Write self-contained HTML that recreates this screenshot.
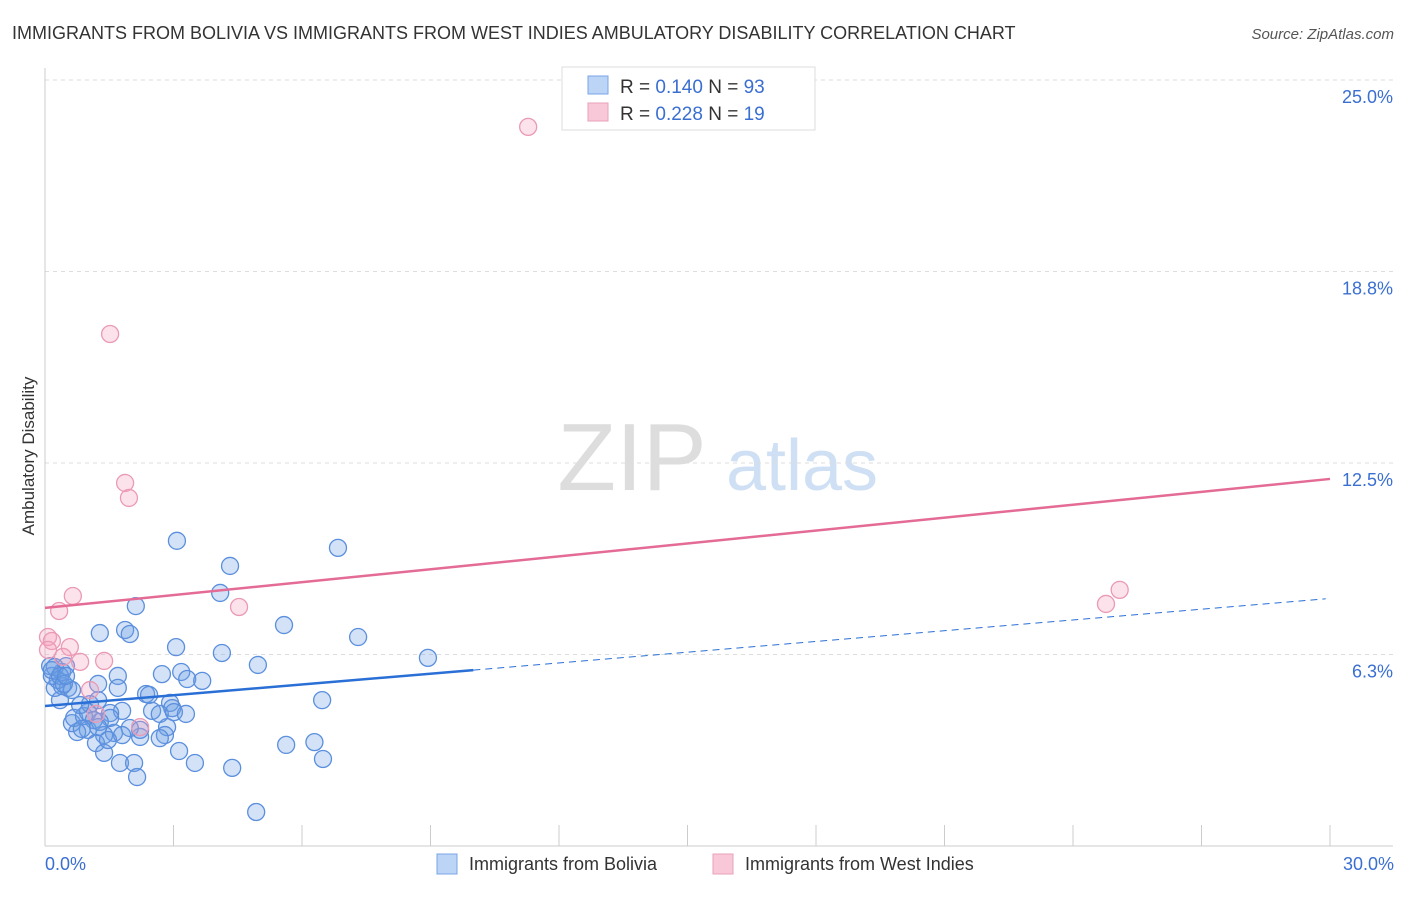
<!DOCTYPE html>
<html><head><meta charset="utf-8"><style>
body{margin:0;background:#fff;font-family:"Liberation Sans",sans-serif;}
svg text{font-family:"Liberation Sans",sans-serif;}
</style></head><body>
<svg id="chart" width="1406" height="892" xmlns="http://www.w3.org/2000/svg">
<text x="12" y="39" font-size="18" fill="#333">IMMIGRANTS FROM BOLIVIA VS IMMIGRANTS FROM WEST INDIES AMBULATORY DISABILITY CORRELATION CHART</text>
<text x="1394" y="39" font-size="15" fill="#555" text-anchor="end" font-style="italic">Source: ZipAtlas.com</text>
<g>
<text x="632" y="490" font-size="96" fill="#ddd" text-anchor="middle" font-family="Liberation Serif,serif">ZIP</text>
<text x="802" y="490" font-size="72" fill="#cfe0f5" text-anchor="middle">atlas</text>
</g>
<g id="grid"></g>
<g id="axes"></g>
<g id="pts"></g>
<g id="trend"></g>
<text transform="translate(34,456) rotate(-90)" font-size="17" fill="#333" text-anchor="middle">Ambulatory Disability</text>
<text x="45" y="870" font-size="18" fill="#3a6fd1">0.0%</text>
<text x="1394" y="870" font-size="18" fill="#3a6fd1" text-anchor="end">30.0%</text>
<g>
<rect x="562" y="67" width="253" height="63" fill="#fff" stroke="#ddd"/>
<rect x="588" y="76" width="20" height="18" fill="#bcd4f5" stroke="#7aa5e6"/>
<rect x="588" y="103" width="20" height="18" fill="#f8c8d8" stroke="#eaa0b8"/>
<text x="620" y="93" font-size="19" fill="#333">R = <tspan fill="#3a6fd1">0.140</tspan>   N = <tspan fill="#3a6fd1">93</tspan></text>
<text x="620" y="120" font-size="19" fill="#333">R = <tspan fill="#3a6fd1">0.228</tspan>   N =  <tspan fill="#3a6fd1">19</tspan></text>
</g>
<g>
<rect x="437" y="854" width="20" height="20" fill="#bcd4f5" stroke="#7aa5e6"/>
<text x="469" y="870" font-size="18" fill="#333">Immigrants from Bolivia</text>
<rect x="713" y="854" width="20" height="20" fill="#f8c8d8" stroke="#eaa0b8"/>
<text x="745" y="870" font-size="18" fill="#333">Immigrants from West Indies</text>
</g>
</svg>
<script>
const yTicks=[25,18.75,12.5,6.25];
const yTickLabels=["25.0%","18.8%","12.5%","6.3%"];
const xTicks=[0,3,6,9,12,15,18,21,24,27,30];
const blueX=[3.08,4.32,6.84,4.09,2.12,1.87,1.98,1.28,5.58,7.31,3.06,4.13,8.94,4.97,2.73,3.18,3.32,3.67,1.70,1.70,1.24,2.36,6.47,2.92,2.97,2.50,2.68,1.80,1.52,2.85,2.80,2.68,2.22,2.22,1.98,1.61,1.38,1.19,1.38,1.75,2.08,2.15,3.13,3.50,4.37,4.93,5.63,6.29,6.49,1.00,0.75,0.63,0.68,0.91,1.00,1.05,1.24,0.82,0.35,0.23,0.40,0.54,0.63,0.30,0.16,0.40,0.49,0.23,0.12,0.16,0.35,0.44,0.49,1.52,1.28,1.14,1.80,1.24,2.43,3.01,3.29,1.47,0.86];
const blueY=[9.96,9.14,9.73,8.26,7.83,7.05,6.92,6.95,7.21,6.82,6.49,6.30,6.14,5.91,5.61,5.68,5.45,5.39,5.55,5.16,5.29,4.96,4.76,4.67,4.50,4.41,4.31,4.41,4.34,3.88,3.62,3.52,3.56,3.79,3.85,3.69,3.62,3.36,3.04,2.71,2.71,2.25,3.10,2.71,2.55,1.11,3.30,3.39,2.84,3.79,3.72,4.01,4.18,4.24,4.37,4.63,4.76,4.60,4.76,5.16,5.22,5.16,5.09,5.42,5.55,5.68,5.87,5.84,5.87,5.74,5.55,5.29,5.55,4.18,4.05,4.11,3.62,3.88,4.93,4.37,4.31,3.46,3.82];
const pinkX=[11.28,1.52,1.87,1.96,0.65,0.33,4.53,24.77,25.09,0.07,0.16,0.58,0.42,0.82,1.38,1.05,1.19,2.22,0.07];
const pinkY=[23.47,16.71,11.85,11.36,8.16,7.67,7.80,7.90,8.36,6.82,6.69,6.49,6.17,6.01,6.04,5.09,4.31,3.88,6.40];
const blueTrend=[4.57,8.08];
const pinkTrend=[7.77,11.98];
const NS="http://www.w3.org/2000/svg";
const X=v=>45+v/30*1285;
const Y=v=>846-v/6.25*191.5;
function mk(t,a,p){const e=document.createElementNS(NS,t);for(const k in a)e.setAttribute(k,a[k]);document.getElementById(p).appendChild(e);return e;}
yTicks.forEach((t,i)=>{
 const l=mk('line',{x1:45,x2:1393,y1:Y(t),y2:Y(t),stroke:'#ddd','stroke-dasharray':'4,4'},'grid');
 
 
 const tx=mk('text',{x:1393,y:Y(t)+23,'font-size':18,fill:'#3a6fd1','text-anchor':'end'},'grid');
 tx.textContent=yTickLabels[i];
 
 
});
let a=mk('line',{x1:45,x2:45,y1:68,y2:846,stroke:'#ccc'},'axes');


a=mk('line',{x1:45,x2:1393,y1:846,y2:846,stroke:'#ccc'},'axes');


xTicks.forEach(t=>{const l=mk('line',{x1:X(t),x2:X(t),y1:825,y2:846,stroke:'#ccc'},'axes');
 
 });
blueX.forEach((v,i)=>{const c=mk('circle',{cx:X(v),cy:Y(blueY[i]),r:8.5,fill:'rgba(110,160,230,0.3)',stroke:'#5b8fdd','stroke-width':1.3},'pts');
 
 });
pinkX.forEach((v,i)=>{const c=mk('circle',{cx:X(v),cy:Y(pinkY[i]),r:8.5,fill:'rgba(245,160,190,0.3)',stroke:'#eb9ab4','stroke-width':1.3},'pts');
 
 });
const bAt=x=>blueTrend[0]+(blueTrend[1]-blueTrend[0])*x/30;
let t=mk('line',{x1:X(0),y1:Y(bAt(0)),x2:X(10),y2:Y(bAt(10)),stroke:'#2a6fd6','stroke-width':2.5},'trend');


t=mk('line',{x1:X(10),y1:Y(bAt(10)),x2:X(29.9),y2:Y(bAt(29.9)),stroke:'#2a6fd6','stroke-width':1,'stroke-dasharray':'7,5'},'trend');


t=mk('line',{x1:X(0),y1:Y(pinkTrend[0]),x2:X(30),y2:Y(pinkTrend[1]),stroke:'#e46b95','stroke-width':2.5},'trend');


</script>
</body></html>
